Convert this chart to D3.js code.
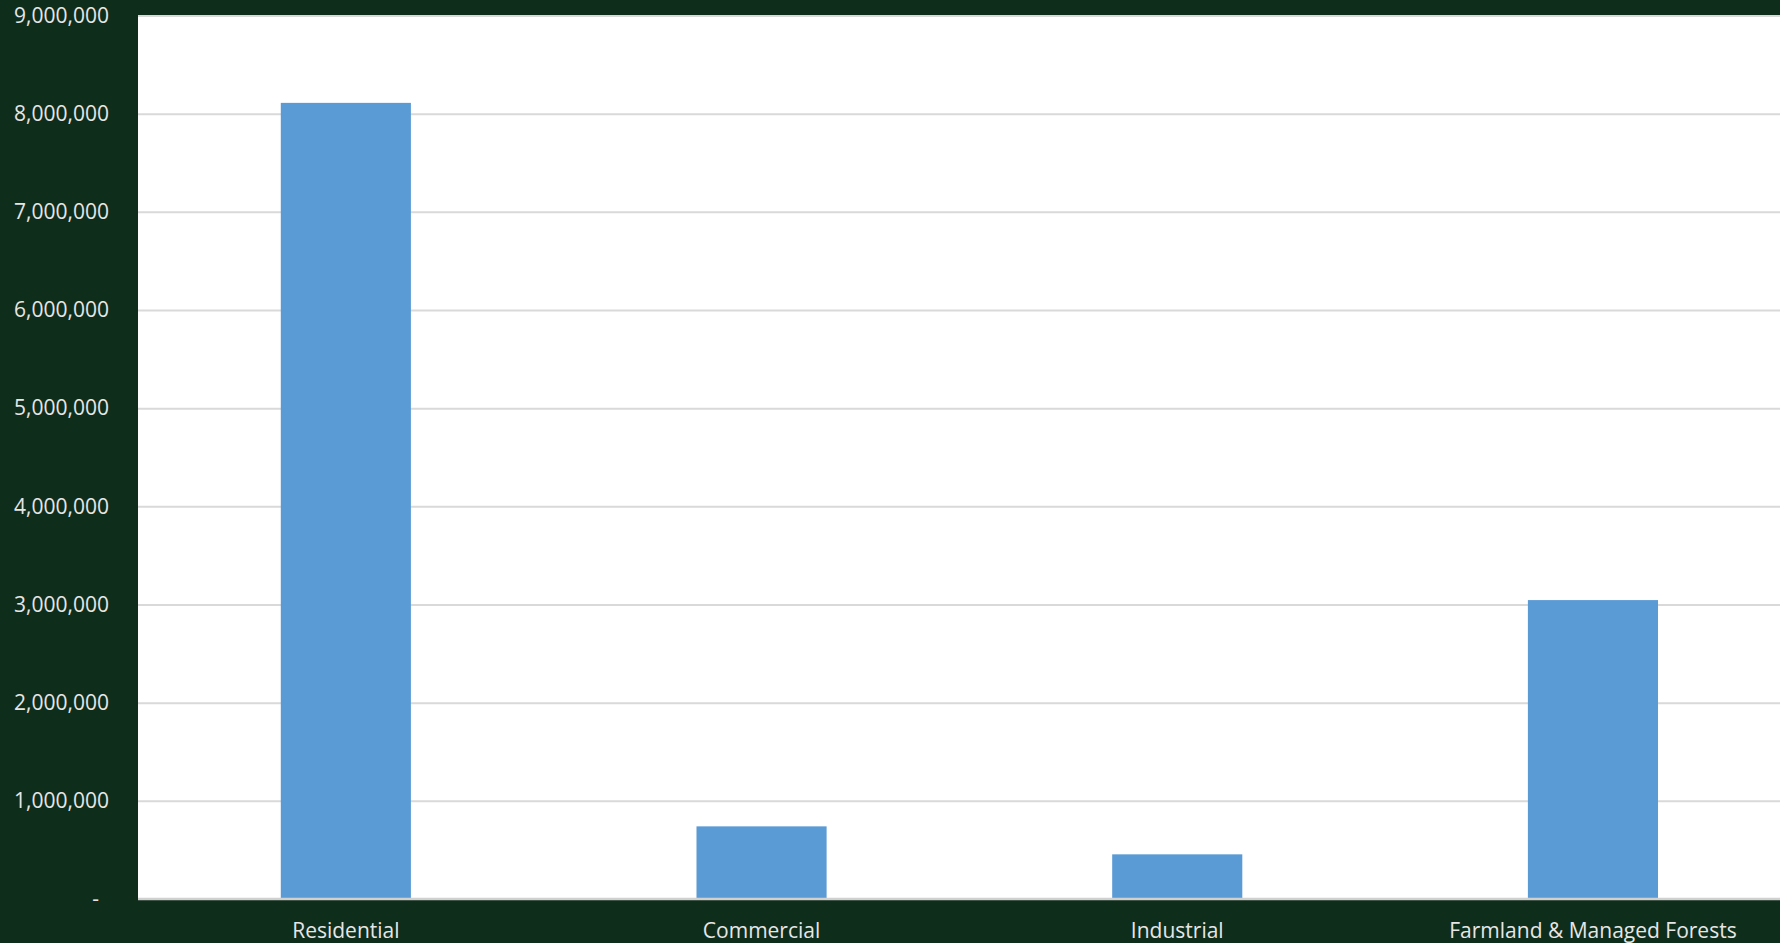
<!DOCTYPE html>
<html>
<head>
<meta charset="utf-8">
<script src="https://cdn.jsdelivr.net/npm/d3@7"></script>
<style>
  html, body { margin: 0; padding: 0; background: #0f2d1b; overflow: hidden; }
  svg { display: block; }
  .tick text { font-family: "Open Sans", sans-serif; }
</style>
</head>
<body>
<div id="chart"></div>
<script>
// Land use categories and their values
const categories = ["Residential", "Commercial", "Industrial", "Farmland & Managed Forests"];
const values = [8110000, 740000, 455000, 3045000];
const yTicks = [0, 1000000, 2000000, 3000000, 4000000, 5000000, 6000000, 7000000, 8000000, 9000000];

function createBarChart() {
    const W = 1780, H = 943;
    const plot = {left: 138, top: 15.5, bottom: 899, step: 415.7};
    const plotRight = plot.left + plot.step * categories.length;

    const svg = d3.select("#chart").append("svg")
        .attr("width", W)
        .attr("height", H);

    svg.append("rect")
        .attr("width", W).attr("height", H)
        .attr("fill", "#0f2d1b");

    // white plot area
    svg.append("rect")
        .attr("x", plot.left).attr("y", plot.top)
        .attr("width", plotRight - plot.left)
        .attr("height", plot.bottom - plot.top)
        .attr("fill", "#ffffff");

    const xScale = d3.scaleBand()
        .domain(categories)
        .range([plot.left, plotRight])
        .paddingInner(0.687)
        .paddingOuter(0.3435);

    const yScale = d3.scaleLinear()
        .domain([0, 9000000])
        .range([plot.bottom, plot.top]);

    // Grid
    svg.append("g")
        .attr("transform", `translate(${plot.left},0)`)
        .call(d3.axisLeft(yScale).tickValues(yTicks.slice(1)).tickSize(-(plotRight - plot.left)).tickFormat(""))
        .call(g => g.select(".domain").remove())
        .selectAll("line")
        .attr("stroke", "#d9d9d9")
        .attr("stroke-width", 2);

    // Bars
    svg.selectAll("rect.bar")
        .data(categories)
        .enter()
        .append("rect")
        .attr("class", "bar")
        .attr("x", d => xScale(d))
        .attr("width", xScale.bandwidth())
        .attr("y", (d, i) => yScale(values[i]))
        .attr("height", (d, i) => plot.bottom - yScale(values[i]))
        .attr("fill", "#5b9bd5");

    // Baseline
    svg.append("line")
        .attr("x1", plot.left).attr("x2", plotRight)
        .attr("y1", plot.bottom).attr("y2", plot.bottom)
        .attr("stroke", "#d0d0d0")
        .attr("stroke-width", 2.5);

    // Y Axis labels
    const fmt = d3.format(",");
    const yAxis = svg.append("g")
        .attr("transform", `translate(${plot.left},0)`)
        .call(d3.axisLeft(yScale).tickValues(yTicks).tickSize(0).tickPadding(29)
            .tickFormat(d => d === 0 ? "-" : fmt(d)));
    yAxis.select(".domain").remove();
    yAxis.selectAll("text")
        .attr("fill", "#e6e6e6")
        .style("font-size", "21px")
        .attr("dx", d => d === 0 ? -10 : 0);

    // X Axis labels
    const xAxis = svg.append("g")
        .attr("transform", `translate(0,${plot.bottom})`)
        .call(d3.axisBottom(xScale).tickSize(0).tickPadding(24));
    xAxis.select(".domain").remove();
    xAxis.selectAll("text")
        .attr("fill", "#e6e6e6")
        .style("font-size", "21px");
}

createBarChart();
</script>
</body>
</html>
